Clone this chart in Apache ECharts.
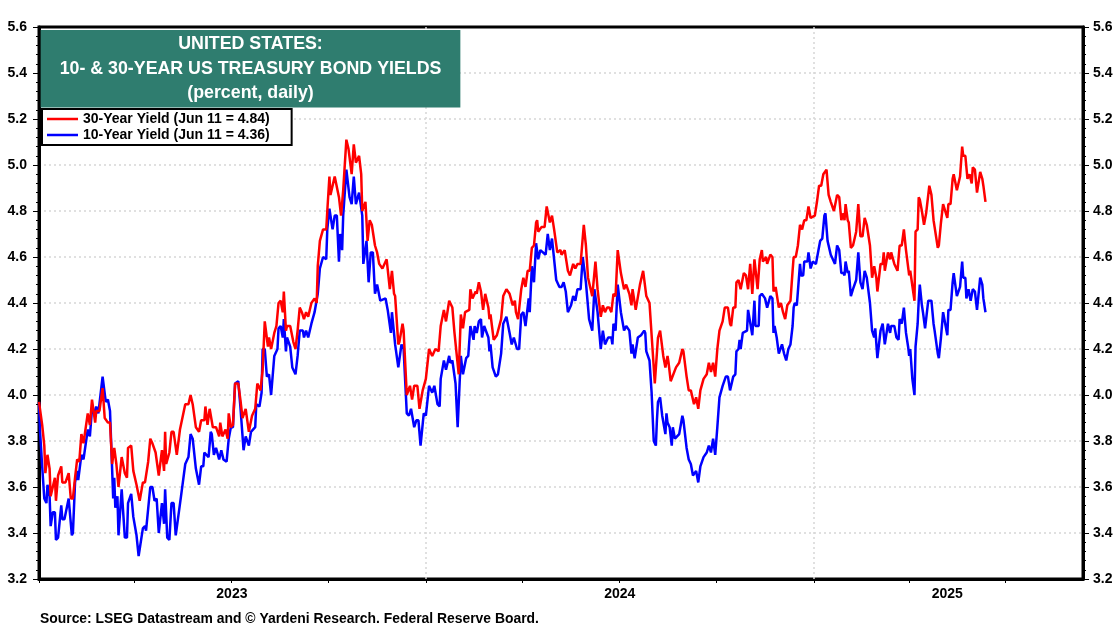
<!DOCTYPE html>
<html>
<head>
<meta charset="utf-8">
<title>US Treasury Bond Yields</title>
<script src="https://cdn.jsdelivr.net/npm/echarts@6/dist/echarts.min.js"></script>
<style>
  html, body { margin: 0; padding: 0; background: #fff; }
  #chart { width: 1120px; height: 630px; }
</style>
</head>
<body>
<div id="chart"></div>
<script>
// [days since 2023-01-01, yield]
const yield30 = [
  [0,3.97],[3,3.87],[5,3.78],[6,3.66],[8,3.74],[10,3.68],[11,3.56],[13,3.60],[15,3.64],[16,3.54],[18,3.65],[21,3.69],
  [22,3.62],[25,3.62],[28,3.66],[30,3.55],[32,3.55],[34,3.64],[36,3.72],[38,3.71],[40,3.83],[42,3.79],[46,3.92],[48,3.87],
  [50,3.98],[53,3.88],[54,3.93],[57,3.93],[60,4.03],[62,3.90],[65,3.88],[67,3.88],[69,3.70],[71,3.77],[73,3.70],[75,3.60],
  [78,3.73],[81,3.66],[83,3.64],[84,3.77],[87,3.78],[89,3.67],[92,3.61],[95,3.54],[98,3.62],[100,3.62],[103,3.71],[105,3.81],
  [107,3.79],[110,3.75],[113,3.65],[116,3.76],[118,3.67],[119,3.84],[120,3.70],[123,3.75],[125,3.84],[127,3.84],[130,3.74],[133,3.85],
  [138,3.96],[141,3.96],[143,4.00],[145,3.96],[148,3.86],[151,3.84],[153,3.89],[156,3.89],[157,3.95],[159,3.87],[161,3.94],[164,3.86],
  [167,3.86],[170,3.82],[171,3.88],[173,3.82],[176,3.85],[178,3.81],[179,3.92],[181,3.86],[183,3.87],[185,4.05],[188,4.05],[190,3.98],
  [192,3.90],[195,3.94],[198,3.84],[201,3.91],[204,3.94],[206,4.05],[209,4.02],[211,4.11],[213,4.32],[216,4.21],[217,4.25],[219,4.20],
  [222,4.27],[224,4.30],[226,4.40],[228,4.41],[230,4.36],[231,4.45],[233,4.28],[234,4.30],[237,4.30],[240,4.23],[242,4.20],[244,4.28],
  [246,4.38],[248,4.36],[250,4.33],[252,4.36],[254,4.34],[257,4.40],[260,4.42],[262,4.40],[263,4.56],[265,4.67],[268,4.72],[271,4.72],
  [272,4.80],[274,4.95],[275,4.87],[279,4.95],[280,4.95],[283,4.86],[285,4.78],[287,4.89],[290,5.11],[292,5.07],[295,4.96],[297,5.09],
  [299,5.01],[302,5.04],[304,4.96],[305,4.80],[308,4.84],[310,4.67],[312,4.76],[314,4.74],[317,4.65],[319,4.62],[321,4.57],[324,4.55],
  [328,4.59],[331,4.46],[333,4.54],[335,4.44],[336,4.43],[339,4.22],[340,4.23],[343,4.31],[344,4.28],[347,4.00],[350,4.04],[352,3.98],
  [354,4.04],[357,4.04],[359,3.94],[362,4.02],[365,4.07],[368,4.20],[371,4.17],[374,4.20],[377,4.19],[379,4.30],[382,4.37],[384,4.32],
  [387,4.41],[390,4.38],[392,4.27],[394,4.18],[396,4.09],[398,4.35],[400,4.29],[402,4.36],[406,4.37],[407,4.46],[409,4.42],[412,4.45],
  [413,4.44],[415,4.49],[417,4.45],[419,4.37],[421,4.44],[424,4.38],[425,4.33],[426,4.35],[429,4.24],[432,4.26],[436,4.33],[438,4.43],
  [441,4.46],[444,4.44],[447,4.39],[449,4.41],[450,4.36],[452,4.33],[455,4.46],[457,4.51],[459,4.47],[461,4.54],[463,4.54],[465,4.64],
  [467,4.65],[469,4.75],[470,4.76],[471,4.71],[474,4.73],[477,4.73],[479,4.82],[482,4.75],[484,4.78],[486,4.72],[489,4.62],[492,4.63],
  [493,4.61],[496,4.63],[499,4.54],[501,4.52],[504,4.57],[506,4.55],[508,4.57],[511,4.57],[514,4.74],[516,4.65],[518,4.51],[522,4.43],
  [525,4.58],[527,4.46],[530,4.34],[532,4.39],[534,4.36],[536,4.38],[538,4.38],[540,4.36],[542,4.44],[544,4.43],[546,4.63],[549,4.53],
  [552,4.46],[554,4.48],[557,4.44],[559,4.39],[560,4.46],[563,4.37],[567,4.48],[570,4.54],[573,4.43],[576,4.40],[581,4.05],[584,4.25],
  [586,4.28],[589,4.17],[591,4.12],[593,4.17],[594,4.14],[596,4.06],[601,4.12],[604,4.14],[607,4.20],[608,4.19],[611,4.08],[613,4.02],
  [615,4.02],[618,3.96],[620,3.99],[622,3.94],[624,4.02],[627,4.07],[630,4.09],[632,4.14],[634,4.10],[636,4.14],[638,4.08],[640,4.20],
  [642,4.28],[645,4.32],[647,4.38],[650,4.38],[652,4.31],[653,4.30],[655,4.38],[657,4.38],[658,4.49],[660,4.50],[662,4.46],[665,4.53],
  [667,4.52],[669,4.46],[671,4.57],[673,4.44],[675,4.59],[678,4.46],[680,4.59],[682,4.63],[683,4.58],[686,4.60],[687,4.57],[690,4.61],
  [692,4.60],[693,4.45],[695,4.47],[698,4.38],[700,4.40],[702,4.36],[704,4.33],[706,4.39],[709,4.41],[711,4.54],[712,4.60],[714,4.60],
  [716,4.65],[718,4.74],[720,4.72],[722,4.76],[724,4.76],[726,4.82],[728,4.77],[732,4.78],[734,4.84],[736,4.91],[738,4.91],[740,4.96],
  [743,4.98],[745,4.87],[747,4.84],[748,4.84],[750,4.80],[753,4.87],[755,4.86],[757,4.76],[759,4.79],[760,4.76],[761,4.83],[763,4.76],
  [764,4.75],[766,4.64],[768,4.65],[771,4.71],[773,4.83],[775,4.69],[777,4.69],[779,4.77],[781,4.74],[784,4.65],[786,4.51],[788,4.56],
  [790,4.51],[791,4.45],[794,4.57],[796,4.57],[797,4.62],[798,4.54],[801,4.62],[803,4.59],[804,4.62],[807,4.57],[810,4.54],[812,4.65],
  [814,4.65],[816,4.72],[818,4.63],[821,4.52],[822,4.54],[826,4.41],[827,4.71],[829,4.72],[830,4.86],[831,4.85],[833,4.80],[835,4.74],
  [837,4.79],[838,4.79],[840,4.91],[842,4.87],[844,4.76],[845,4.73],[848,4.64],[849,4.65],[851,4.75],[853,4.83],[857,4.77],[858,4.83],
  [860,4.83],[862,4.94],[863,4.96],[866,4.89],[869,4.95],[871,5.08],[872,5.04],[874,5.04],[876,4.94],[878,4.96],[880,4.92],[881,4.99],
  [883,4.98],[885,4.88],[888,4.97],[890,4.94],[891,4.91],[893,4.84]
];
const yield10 = [
  [0,3.97],[1,3.84],[3,3.69],[4,3.69],[5,3.55],[7,3.53],[8,3.61],[10,3.56],[11,3.43],[13,3.49],[15,3.49],[16,3.37],
  [18,3.38],[21,3.52],[22,3.46],[24,3.46],[28,3.55],[31,3.39],[32,3.40],[34,3.62],[36,3.67],[37,3.63],[40,3.74],[42,3.72],
  [46,3.85],[48,3.82],[50,3.94],[52,3.92],[54,3.95],[56,3.92],[60,4.08],[63,3.97],[65,3.98],[67,3.93],[70,3.55],[71,3.64],
  [72,3.51],[74,3.56],[75,3.39],[78,3.59],[81,3.38],[83,3.38],[84,3.53],[87,3.57],[89,3.47],[92,3.39],[94,3.30],[95,3.30],
  [98,3.42],[100,3.43],[101,3.41],[105,3.60],[107,3.60],[109,3.54],[111,3.55],[113,3.40],[116,3.53],[118,3.44],[119,3.59],[121,3.38],
  [123,3.37],[125,3.53],[127,3.53],[129,3.39],[134,3.56],[138,3.70],[141,3.73],[143,3.83],[145,3.81],[148,3.68],[151,3.61],[153,3.69],
  [155,3.69],[156,3.75],[158,3.74],[160,3.73],[162,3.84],[163,3.83],[165,3.74],[167,3.77],[170,3.72],[172,3.76],[174,3.72],[177,3.71],
  [179,3.81],[181,3.86],[183,3.86],[185,4.05],[188,4.06],[190,3.95],[193,3.76],[195,3.82],[198,3.78],[200,3.84],[204,3.86],[205,3.96],
  [208,3.95],[210,4.01],[211,4.20],[213,4.20],[215,4.08],[217,4.09],[219,4.00],[222,4.17],[225,4.20],[226,4.29],[228,4.30],[230,4.25],
  [231,4.33],[233,4.19],[234,4.25],[237,4.21],[239,4.12],[242,4.09],[244,4.17],[246,4.28],[249,4.28],[250,4.25],[252,4.28],[254,4.25],
  [257,4.31],[260,4.36],[261,4.36],[263,4.44],[265,4.55],[268,4.60],[271,4.59],[272,4.72],[274,4.81],[277,4.72],[279,4.78],[281,4.78],
  [283,4.58],[284,4.70],[286,4.63],[287,4.78],[290,4.98],[293,4.86],[295,4.83],[297,4.95],[299,4.83],[302,4.88],[305,4.78],[306,4.57],
  [309,4.67],[311,4.49],[313,4.62],[315,4.62],[317,4.44],[319,4.48],[322,4.41],[327,4.42],[329,4.37],[332,4.27],[333,4.36],[336,4.22],
  [339,4.12],[342,4.22],[344,4.20],[347,3.92],[349,3.91],[351,3.94],[354,3.86],[356,3.89],[358,3.89],[360,3.78],[363,3.92],[365,3.91],
  [368,4.04],[371,4.01],[373,4.04],[376,3.96],[378,3.95],[379,4.07],[382,4.15],[384,4.11],[387,4.17],[388,4.14],[390,4.15],[393,4.05],
  [395,3.86],[398,4.17],[400,4.09],[403,4.16],[405,4.17],[407,4.30],[410,4.24],[411,4.30],[413,4.27],[415,4.32],[417,4.33],[418,4.25],
  [420,4.30],[424,4.25],[425,4.19],[426,4.22],[428,4.12],[431,4.08],[433,4.09],[436,4.18],[438,4.31],[441,4.34],[444,4.27],[446,4.22],
  [448,4.25],[451,4.20],[453,4.20],[455,4.35],[457,4.36],[459,4.30],[462,4.42],[463,4.36],[465,4.56],[467,4.49],[469,4.66],[471,4.59],
  [473,4.63],[478,4.61],[480,4.70],[482,4.63],[484,4.68],[488,4.50],[491,4.47],[493,4.47],[495,4.49],[497,4.45],[499,4.36],[502,4.39],
  [504,4.43],[506,4.41],[508,4.46],[511,4.46],[513,4.60],[516,4.49],[519,4.33],[522,4.28],[524,4.46],[527,4.36],[530,4.20],[532,4.28],
  [534,4.22],[537,4.25],[540,4.25],[541,4.22],[542,4.31],[544,4.28],[546,4.48],[549,4.36],[552,4.28],[554,4.30],[557,4.28],[559,4.18],
  [560,4.22],[562,4.16],[565,4.25],[568,4.26],[571,4.28],[572,4.27],[573,4.19],[576,4.15],[578,4.01],[580,3.80],[582,3.78],[583,3.89],
  [584,3.97],[586,3.99],[588,3.91],[591,3.83],[592,3.92],[593,3.88],[595,3.86],[597,3.78],[598,3.86],[600,3.81],[604,3.83],[607,3.91],
  [608,3.89],[611,3.77],[613,3.72],[615,3.70],[617,3.65],[620,3.67],[622,3.62],[624,3.69],[627,3.73],[630,3.75],[632,3.78],[634,3.75],
  [636,3.81],[638,3.74],[640,3.86],[642,3.99],[645,4.04],[648,4.08],[650,4.08],[652,4.02],[653,4.02],[655,4.08],[657,4.09],[658,4.19],
  [660,4.20],[661,4.24],[662,4.20],[664,4.27],[668,4.28],[669,4.37],[673,4.26],[675,4.41],[676,4.30],[679,4.30],[680,4.43],[682,4.44],
  [685,4.42],[687,4.38],[690,4.43],[692,4.42],[693,4.27],[694,4.30],[696,4.25],[698,4.18],[701,4.22],[703,4.18],[705,4.15],[707,4.20],
  [709,4.22],[711,4.30],[712,4.38],[713,4.40],[715,4.39],[717,4.51],[718,4.57],[719,4.52],[721,4.52],[722,4.58],[725,4.58],[726,4.62],
  [728,4.55],[730,4.58],[733,4.57],[735,4.62],[737,4.67],[739,4.68],[741,4.78],[742,4.79],[744,4.67],[747,4.61],[748,4.60],[751,4.57],
  [753,4.65],[755,4.63],[757,4.53],[759,4.53],[760,4.52],[761,4.58],[763,4.53],[764,4.54],[766,4.43],[768,4.46],[771,4.50],[773,4.62],
  [775,4.49],[777,4.46],[779,4.54],[781,4.51],[784,4.40],[786,4.28],[788,4.25],[789,4.29],[791,4.16],[794,4.28],[796,4.31],[798,4.22],
  [801,4.31],[803,4.27],[804,4.30],[807,4.30],[809,4.25],[811,4.24],[812,4.33],[814,4.31],[816,4.38],[818,4.27],[820,4.21],[821,4.17],
  [822,4.20],[824,4.07],[826,4.00],[827,4.21],[829,4.31],[830,4.41],[831,4.48],[833,4.39],[834,4.36],[836,4.29],[837,4.33],[838,4.33],
  [839,4.41],[842,4.41],[844,4.31],[845,4.28],[848,4.18],[849,4.16],[851,4.25],[853,4.36],[857,4.26],[858,4.37],[860,4.37],[862,4.49],
  [863,4.53],[866,4.43],[869,4.47],[871,4.58],[872,4.51],[874,4.51],[875,4.42],[877,4.46],[879,4.41],[881,4.46],[883,4.45],[885,4.37],
  [888,4.51],[890,4.48],[891,4.42],[893,4.36]
];

const startDate = Date.UTC(2023, 0, 1);
const endDate = Date.UTC(2025, 8, 12);
const quarterTicks = [
  Date.UTC(2023, 0, 1), Date.UTC(2023, 3, 1), Date.UTC(2023, 6, 1), Date.UTC(2023, 9, 1),
  Date.UTC(2024, 0, 1), Date.UTC(2024, 3, 1), Date.UTC(2024, 6, 1), Date.UTC(2024, 9, 1),
  Date.UTC(2025, 0, 1), Date.UTC(2025, 3, 1), Date.UTC(2025, 6, 1)
];
const yearLines = [Date.UTC(2024, 0, 1), Date.UTC(2025, 0, 1)];
const yearLabels = [Date.UTC(2023, 6, 2), Date.UTC(2024, 6, 2), Date.UTC(2025, 4, 7)];

const name30 = "30-Year Yield (Jun 11 = 4.84)";
const name10 = "10-Year Yield (Jun 11 = 4.36)";
const titleLines = ["UNITED STATES:", "10- & 30-YEAR US TREASURY BOND YIELDS", "(percent, daily)"];
const sourceText = "Source: LSEG Datastream and © Yardeni Research. Federal Reserve Board.";

const toPoints = (rows) => rows.map(([d, v]) => [startDate + d * 86400000, v]);
const fontFamily = '"Liberation Sans", Arial, sans-serif';
const gridDots = { color: "#d6d6d6", type: [2, 3], width: 1.5 };

const yAxis = (position, margin) => ({
  type: "value",
  position,
  min: 3.2,
  max: 5.6,
  interval: 0.2,
  axisLine: { show: true, lineStyle: { color: "#000", width: 3 } },
  axisTick: { show: true, length: 6, lineStyle: { color: "#000", width: 1 } },
  minorTick: { show: true, splitNumber: 5, length: 3, lineStyle: { color: "#000", width: 1 } },
  axisLabel: {
    margin,
    color: "#000",
    fontFamily,
    fontWeight: "bold",
    fontSize: 14,
    formatter: (v) => v.toFixed(1),
  },
  splitLine: { show: position === "left", showMinLine: false, showMaxLine: false, lineStyle: gridDots },
});

const chart = echarts.init(document.getElementById("chart"));
chart.setOption({
  animation: false,
  backgroundColor: "#fff",
  textStyle: { fontFamily },
  grid: { left: 39, right: 37, top: 27, bottom: 51, show: true, borderColor: "#000", borderWidth: 3 },
  title: [
    {
      text: titleLines.join("\n"),
      left: 231.5,
      top: 30,
      textAlign: "center",
      padding: [2, 19, 2, 19],
      backgroundColor: "#2f7d6f",
      textStyle: { color: "#fff", fontSize: 17.8, fontWeight: "bold", lineHeight: 24.5, fontFamily },
    },
    {
      text: sourceText,
      left: 40,
      top: 612,
      padding: 0,
      textStyle: { color: "#000", fontSize: 13.9, fontWeight: "bold", fontFamily },
    },
  ],
  legend: {
    data: [name30, name10],
    orient: "vertical",
    left: 42,
    top: 109,
    itemWidth: 31,
    itemHeight: 2.5,
    itemGap: 2,
    padding: [3, 22, 3, 5],
    icon: "rect",
    backgroundColor: "#fff",
    borderColor: "#000",
    borderWidth: 2,
    borderRadius: 0,
    selectedMode: false,
    textStyle: { color: "#000", fontSize: 14, fontWeight: "bold", fontFamily },
  },
  xAxis: {
    type: "value",
    min: startDate,
    max: endDate,
    axisLine: { show: true, lineStyle: { color: "#000", width: 3 } },
    axisTick: { show: true, length: 4, customValues: quarterTicks, lineStyle: { color: "#000", width: 1 } },
    axisLabel: {
      customValues: yearLabels,
      margin: 8,
      color: "#000",
      fontFamily,
      fontWeight: "bold",
      fontSize: 14,
      formatter: (v) => String(new Date(v).getUTCFullYear()),
    },
    splitLine: { show: false },
  },
  yAxis: [yAxis("left", 12), yAxis("right", 10)],
  series: [
    {
      name: name30,
      type: "line",
      z: 4,
      data: toPoints(yield30),
      showSymbol: false,
      itemStyle: { color: "#ff0000" },
      lineStyle: { color: "#ff0000", width: 2.5 },
    },
    {
      name: name10,
      type: "line",
      z: 3,
      data: toPoints(yield10),
      showSymbol: false,
      itemStyle: { color: "#0000ff" },
      lineStyle: { color: "#0000ff", width: 2.5 },
      markLine: {
        silent: true,
        z: 1,
        symbol: "none",
        label: { show: false },
        lineStyle: gridDots,
        data: yearLines.map((t) => ({ xAxis: t })),
      },
    },
  ],
});
</script>
</body>
</html>
